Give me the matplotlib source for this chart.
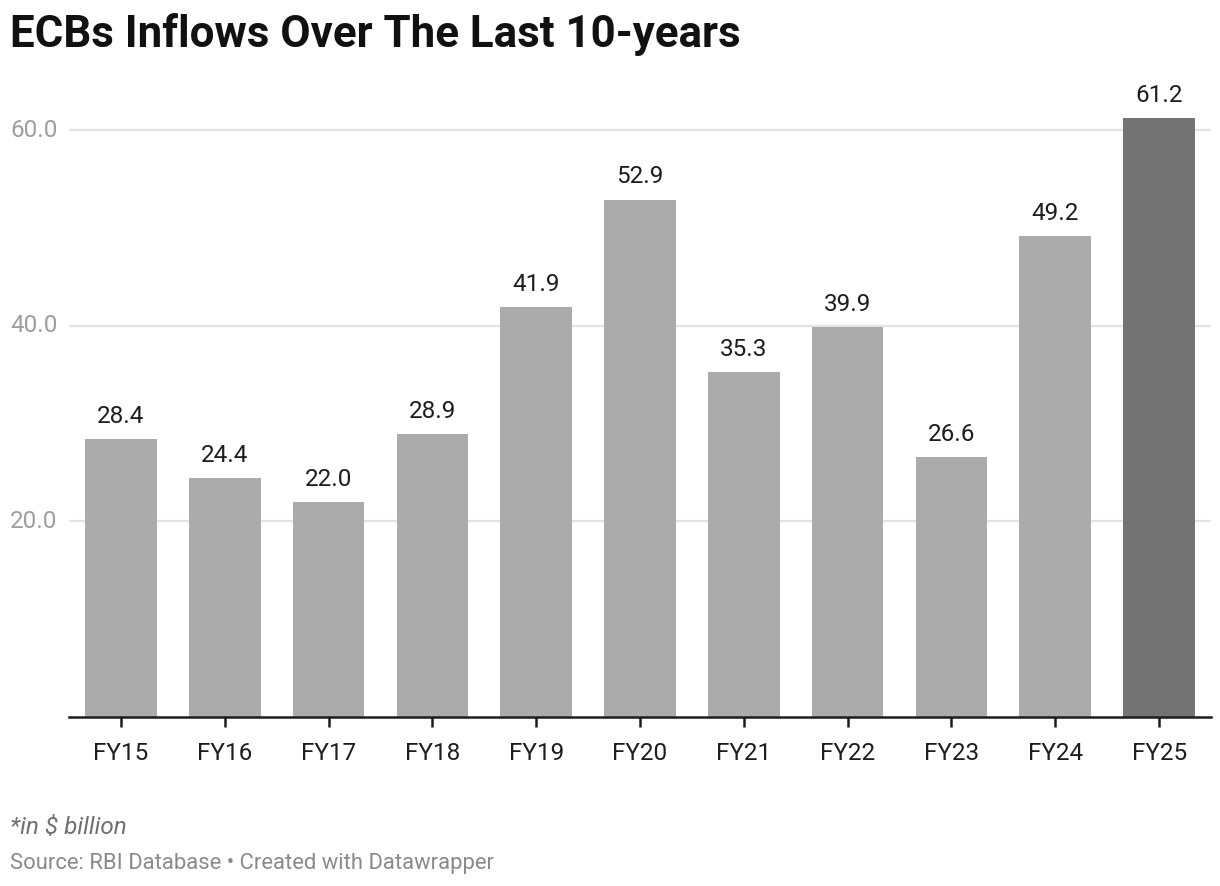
import matplotlib.pyplot as plt

years = ["FY15", "FY16", "FY17", "FY18", "FY19", "FY20", "FY21", "FY22", "FY23", "FY24", "FY25"]
inflows = [28.4, 24.4, 22.0, 28.9, 41.9, 52.9, 35.3, 39.9, 26.6, 49.2, 61.2]
yticks = [20, 40, 60]

plt.rcParams['font.family'] = ['Roboto', 'DejaVu Sans']

W, H = 1220, 886
fig = plt.figure(figsize=(W / 100, H / 100), dpi=100)
ax = fig.add_axes([69 / W, (H - 717) / H, (1211 - 69) / W, (717 - 91) / H])

x = list(range(len(years)))
colors = ["#ababab"] * (len(years) - 1) + ["#737373"]
ax.set_xlim(-0.5, len(years) - 0.5)
ax.set_ylim(0, 64)

# gridlines behind bars
for t in yticks:
    ax.axhline(t, color="#e3e3e3", lw=1.6, zorder=0)
    ax.annotate(f"{t:.1f}", (0, t), xycoords=("figure pixels", "data"),
                xytext=(10, 0), textcoords="offset pixels",
                ha="left", va="center", fontsize=17.5, color="#9e9e9e",
                annotation_clip=False)

bars = ax.bar(x, inflows, width=0.69, color=colors, zorder=2)
for xi, v in zip(x, inflows):
    ax.annotate(f"{v:.1f}", (xi, v), xytext=(0, 8), textcoords="offset points",
                ha="center", va="bottom", fontsize=17.5, color="#1d1d1d")

for s in ["top", "right", "left"]:
    ax.spines[s].set_visible(False)
ax.spines["bottom"].set_linewidth(1.8)
ax.spines["bottom"].set_color("#1d1d1d")
ax.set_yticks([])
ax.set_xticks(x)
ax.set_xticklabels(years, fontsize=17.5, color="#1d1d1d")
ax.tick_params(axis="x", length=7, width=1.8, color="#1d1d1d", pad=11)

fig.text(10 / W, 1 - 35 / H, "ECBs Inflows Over The Last 10-years",
         fontsize=31.6, fontweight="bold", color="#111111", va="center", ha="left")
fig.text(10 / W, 1 - 828 / H, "*in $ billion", fontsize=17.5, style="italic",
         color="#707070", va="center", ha="left")
fig.text(10 / W, 1 - 864 / H, "Source: RBI Database \u2022 Created with Datawrapper",
         fontsize=15.8, color="#8a8a8a", va="center", ha="left")

fig.savefig("out.png", dpi=100)
